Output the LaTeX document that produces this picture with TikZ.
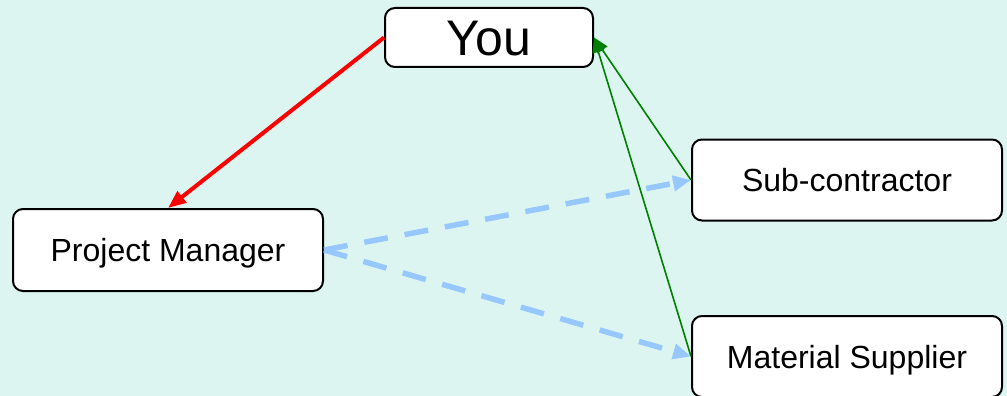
\documentclass[tikz,border=0pt]{standalone}
\usepackage{fontspec}
\setmainfont{Liberation Sans}
\usetikzlibrary{arrows.meta}
\definecolor{bgc}{RGB}{221,245,240}
\definecolor{bluec}{RGB}{150,200,255}
\definecolor{greenc}{RGB}{0,128,0}
\tikzset{
  box/.style={draw=black, line width=2pt, fill=white, rounded corners=10pt, inner sep=0pt, text height=23pt, text depth=0pt, font=\fontsize{32}{36}\selectfont},
  redarrow/.style={draw=red, line width=4pt, -{Triangle[length=18pt,width=14pt]}},
  greenarrow/.style={draw=greenc, line width=1.6pt, -{Triangle[length=15pt,width=12pt]}},
  bluearrow/.style={draw=bluec, line width=5.5pt, dash pattern=on 24pt off 17pt, -{Triangle[length=18pt,width=15pt]}}
}
\begin{document}
\begin{tikzpicture}[x=1pt,y=-1pt]
\fill[bgc] (0,0) rectangle (1007,396);
\useasboundingbox (0,0) rectangle (1007,396);
\node[box, minimum width=208pt, minimum height=59pt, text height=36pt, font=\fontsize{50}{56}\selectfont] (you) at (489,37.5) {You};
\node[box, minimum width=310pt, minimum height=82pt] (pm) at (168,250) {Project Manager};
\node[box, minimum width=310pt, minimum height=81pt] (sub) at (847,180) {Sub-contractor};
\node[box, minimum width=310pt, minimum height=81pt] (ms) at (847,356.5) {Material Supplier};
\draw[redarrow] (you.west) -- (pm.north);
\draw[greenarrow] (sub.west) -- (you.east);
\draw[greenarrow] (ms.west) -- (you.east);
\draw[bluearrow] (pm.east) -- (sub.west);
\draw[bluearrow] (pm.east) -- (ms.west);
\end{tikzpicture}
\end{document}
